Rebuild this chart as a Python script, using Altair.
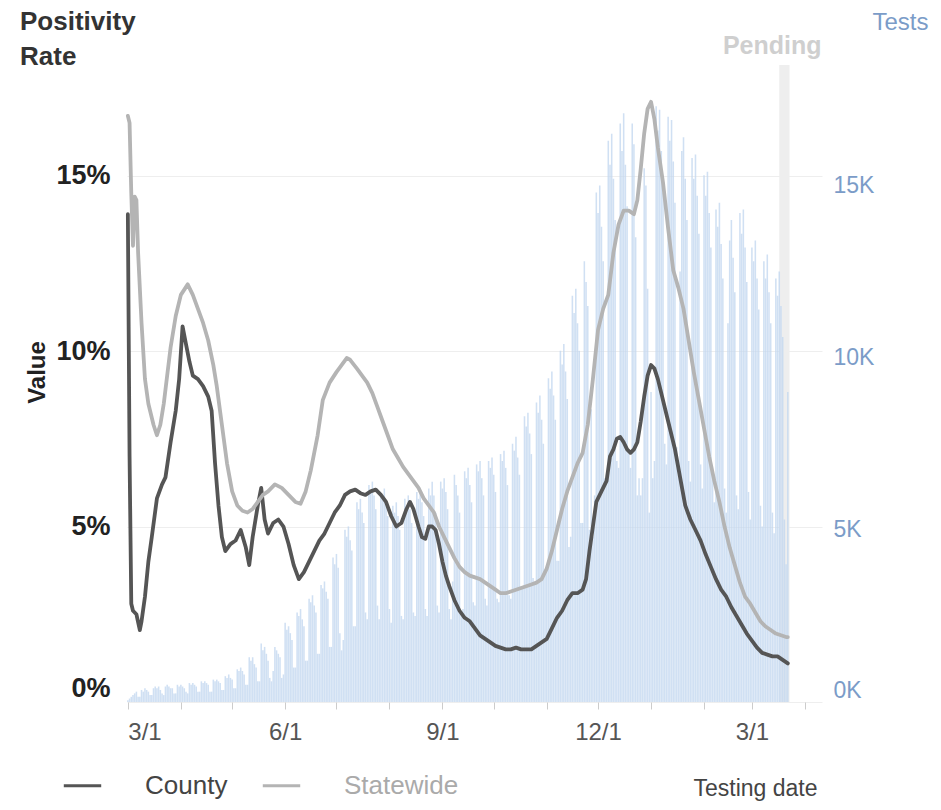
import altair as alt
import pandas as pd

# ---------------- data ----------------
START = "2020-03-01"

# daily tests (thousands), one row per week starting Sunday 2020-03-01
test_weeks = [
    [0.05, 0.1, 0.15, 0.2, 0.25, 0.3, 0.15],
    [0.15, 0.35, 0.3, 0.4, 0.35, 0.3, 0.2],
    [0.2, 0.4, 0.45, 0.4, 0.45, 0.35, 0.25],
    [0.2, 0.45, 0.5, 0.45, 0.4, 0.4, 0.25],
    [0.25, 0.5, 0.45, 0.5, 0.45, 0.4, 0.3],
    [0.25, 0.55, 0.5, 0.55, 0.5, 0.45, 0.3],
    [0.3, 0.6, 0.55, 0.6, 0.55, 0.5, 0.3],
    [0.3, 0.65, 0.6, 0.65, 0.6, 0.55, 0.35],
    [0.35, 0.75, 0.7, 0.8, 0.7, 0.65, 0.4],
    [0.4, 0.95, 0.9, 1.0, 0.9, 0.8, 0.5],
    [0.5, 1.3, 1.2, 1.3, 1.1, 1.0, 0.6],
    [0.6, 1.7, 1.5, 1.6, 1.4, 1.2, 0.7],
    [0.6, 0.9, 1.6, 1.5, 1.4, 1.3, 0.7],
    [0.8, 2.3, 2.1, 2.2, 2.0, 1.8, 1.0],
    [1.0, 2.6, 2.5, 2.7, 2.4, 2.2, 1.2],
    [1.2, 3.0, 2.9, 3.1, 2.8, 2.6, 1.4],
    [1.4, 3.4, 3.3, 3.5, 3.2, 3.0, 1.6],
    [1.6, 4.2, 4.0, 4.3, 3.9, 2.0, 1.5],
    [1.8, 5.0, 4.8, 5.1, 4.7, 4.4, 2.2],
    [2.2, 5.8, 5.6, 5.9, 5.5, 5.2, 2.6],
    [2.4, 6.3, 6.1, 6.4, 6.0, 5.6, 2.8],
    [2.4, 6.0, 5.9, 6.2, 5.8, 5.4, 2.7],
    [2.3, 5.7, 5.5, 5.8, 5.4, 5.0, 2.5],
    [2.4, 5.9, 5.7, 6.0, 5.6, 5.2, 2.6],
    [2.5, 6.1, 5.9, 6.2, 5.8, 5.4, 2.7],
    [2.5, 6.2, 6.0, 6.4, 6.0, 5.5, 2.8],
    [2.6, 6.4, 6.2, 6.5, 6.1, 5.6, 2.7],
    [2.4, 3.5, 6.6, 6.3, 6.0, 5.5, 2.6],
    [2.7, 6.7, 6.5, 6.8, 6.3, 5.8, 2.9],
    [2.8, 6.9, 6.7, 7.0, 6.5, 6.0, 3.0],
    [2.8, 7.0, 6.8, 7.1, 6.6, 6.1, 3.0],
    [2.9, 7.2, 7.0, 7.3, 6.8, 6.3, 3.1],
    [3.0, 7.5, 7.3, 7.7, 7.1, 6.6, 3.3],
    [3.3, 8.3, 8.0, 8.4, 7.8, 7.2, 3.6],
    [3.5, 8.7, 8.4, 8.9, 8.2, 7.5, 3.8],
    [3.8, 9.4, 9.1, 9.6, 8.9, 8.2, 4.1],
    [4.1, 10.2, 9.8, 10.4, 9.6, 8.8, 4.5],
    [4.8, 11.8, 11.3, 12.0, 11.0, 10.2, 5.2],
    [5.2, 12.8, 12.2, 11.5, 5.0, 8.5, 4.8],
    [6.0, 14.8, 14.2, 15.0, 13.8, 12.8, 6.5],
    [6.6, 16.3, 15.6, 16.5, 15.2, 14.0, 7.0],
    [6.8, 16.8, 16.0, 17.1, 15.6, 14.4, 7.2],
    [6.8, 16.8, 16.2, 13.5, 6.0, 6.5, 6.0],
    [6.5, 15.5, 15.0, 12.0, 5.5, 9.0, 6.5],
    [7.0, 17.3, 16.6, 17.2, 16.0, 14.8, 7.5],
    [6.9, 17.0, 16.3, 16.9, 15.7, 14.5, 7.4],
    [6.6, 12.5, 16.0, 16.4, 15.2, 14.0, 7.0],
    [6.4, 15.8, 15.2, 15.9, 14.7, 13.6, 6.9],
    [6.2, 15.3, 14.7, 15.4, 14.2, 13.2, 6.6],
    [5.8, 14.3, 13.8, 14.5, 13.3, 12.3, 6.2],
    [5.5, 11.0, 13.4, 14.0, 12.9, 11.9, 6.0],
    [5.6, 14.2, 13.6, 14.3, 13.2, 12.2, 6.1],
    [5.3, 13.2, 12.8, 13.4, 12.3, 11.4, 5.7],
    [5.1, 12.8, 12.3, 13.0, 11.9, 11.0, 5.5],
    [4.9, 12.3, 11.8, 12.5, 11.5, 10.6, 5.3],
    [4.0, 9.0],
]

# positivity rate (%), day offsets from 2020-03-01
county_day = [0, 1, 2, 3, 5, 7, 8, 10, 12, 14, 17, 20, 22, 25, 28, 30, 32, 34, 36, 38,
              41, 44, 47, 49, 51, 53, 55, 57, 60, 63, 66, 69, 71, 73, 76, 78, 80, 82, 85, 88,
              91, 94, 97, 100, 103, 106, 109, 112, 115, 118, 121, 124, 127, 130, 133, 136, 139, 142, 145, 148,
              151, 154, 157, 160, 163, 165, 167, 170, 172, 174, 176, 178, 180, 182, 184, 186, 188, 191, 194, 197,
              200, 203, 206, 209, 212, 215, 218, 221, 224, 227, 230, 233, 236, 239, 242, 245, 248, 251, 254, 257,
              260, 263, 266, 268, 270, 272, 274, 276, 278, 280, 282, 284, 286, 288, 290, 292, 294, 296, 298, 300,
              302, 304, 306, 308, 310, 312, 314, 317, 320, 323, 326, 329, 332, 335, 338, 341, 344, 347, 350, 353,
              356, 359, 362, 365, 368, 371, 374, 377, 380, 383, 386]
county_val = [13.9, 7.0, 2.8, 2.6, 2.5, 2.05, 2.3, 3.0, 4.0, 4.7, 5.8, 6.2, 6.4, 7.4, 8.3, 9.2, 10.7, 10.2, 9.7, 9.3,
              9.2, 9.0, 8.7, 8.3, 6.8, 5.6, 4.7, 4.3, 4.5, 4.6, 4.9, 4.4, 3.9, 4.7, 5.6, 6.1, 5.2, 4.8, 5.1, 5.2,
              5.0, 4.5, 3.9, 3.5, 3.7, 4.0, 4.3, 4.6, 4.8, 5.1, 5.4, 5.6, 5.9, 6.0, 6.05, 5.95, 5.9, 6.0, 6.05, 5.9,
              5.7, 5.3, 5.0, 5.1, 5.5, 5.7, 5.5, 5.0, 4.7, 4.65, 5.0, 5.0, 4.9, 4.5, 4.0, 3.6, 3.3, 2.9, 2.6, 2.4,
              2.3, 2.1, 1.9, 1.8, 1.7, 1.6, 1.55, 1.5, 1.5, 1.55, 1.5, 1.5, 1.5, 1.6, 1.7, 1.8, 2.1, 2.4, 2.6, 2.9,
              3.1, 3.1, 3.2, 3.5, 4.3, 5.0, 5.7, 5.9, 6.1, 6.3, 7.0, 7.2, 7.5, 7.55, 7.4, 7.2, 7.1, 7.2, 7.4, 8.0,
              8.7, 9.3, 9.6, 9.5, 9.2, 8.8, 8.4, 7.8, 7.2, 6.4, 5.6, 5.2, 4.9, 4.6, 4.2, 3.85, 3.5, 3.2, 3.0, 2.7,
              2.45, 2.2, 1.95, 1.75, 1.55, 1.4, 1.35, 1.3, 1.3, 1.2, 1.1]

state_day = [0, 1, 2, 3, 4, 5, 6, 8, 10, 12, 15, 17, 19, 21, 23, 25, 28, 31, 35, 38,
             41, 44, 47, 50, 52, 55, 58, 61, 64, 67, 70, 73, 76, 79, 82, 86, 90, 94, 98, 101,
             104, 107, 111, 114, 118, 122, 125, 128, 130, 134, 137, 140, 143, 146, 149, 152, 155, 158, 161, 164,
             167, 170, 173, 176, 179, 182, 185, 188, 191, 194, 197, 200, 203, 206, 209, 212, 215, 218, 221, 224,
             227, 230, 233, 236, 239, 242, 245, 248, 251, 254, 257, 260, 263, 266, 269, 272, 275, 278, 281, 284,
             287, 290, 293, 296, 298, 300, 302, 304, 306, 308, 310, 313, 316, 319, 322, 325, 328, 331, 334, 337,
             340, 343, 346, 349, 352, 355, 358, 361, 364, 367, 370, 373, 376, 379, 382, 385, 386]
state_val = [16.7, 16.5, 14.5, 13.0, 14.4, 14.3, 12.8, 10.8, 9.2, 8.5, 7.9, 7.6, 7.9, 8.5, 9.3, 10.1, 11.0, 11.6, 11.9, 11.6,
             11.2, 10.8, 10.3, 9.6, 9.0, 7.9, 6.8, 6.0, 5.6, 5.45, 5.4, 5.5, 5.7, 5.9, 6.0, 6.2, 6.1, 5.9, 5.7, 5.65,
             6.0, 6.6, 7.6, 8.6, 9.1, 9.4, 9.6, 9.8, 9.75, 9.5, 9.3, 9.1, 8.8, 8.4, 8.0, 7.6, 7.2, 6.95, 6.7, 6.5,
             6.3, 6.1, 5.8, 5.6, 5.4, 5.0, 4.7, 4.4, 4.1, 3.85, 3.7, 3.6, 3.55, 3.5, 3.4, 3.3, 3.2, 3.1, 3.1, 3.15,
             3.2, 3.25, 3.3, 3.35, 3.4, 3.5, 3.8, 4.3, 4.9, 5.5, 6.0, 6.4, 6.8, 7.1, 7.9, 9.2, 10.6, 11.2, 11.6, 12.8,
             13.6, 14.0, 14.0, 13.9, 14.3, 15.2, 16.2, 16.9, 17.1, 16.6, 15.8, 14.8, 13.5, 12.3, 11.8, 11.2, 10.3, 9.4, 8.6, 7.8,
             7.0, 6.3, 5.7, 5.0, 4.4, 3.9, 3.4, 3.0, 2.8, 2.55, 2.3, 2.15, 2.05, 1.95, 1.9, 1.85, 1.85]

series_names = ["County", "Statewide"]
series_colors = ["#555555", "#b4b4b4"]

pending_start = "2021-03-17"
pending_end = "2021-03-23"
pending_label = "Pending"

left_title_lines = ["Positivity", "Rate"]

x_domain = ["2020-02-29T12:00:00", "2021-04-11T00:00:00"]
x_ticks = ["2020-03-01", "2020-04-01", "2020-05-01", "2020-06-01", "2020-07-01", "2020-08-01",
           "2020-09-01", "2020-10-01", "2020-11-01", "2020-12-01", "2021-01-01", "2021-02-01",
           "2021-03-01", "2021-04-01"]
left_ticks = [0, 5, 10, 15]
left_max = 18.15
right_ticks = [0, 5000, 10000, 15000]
right_max = 18500

# ---------------- tables ----------------
start = pd.Timestamp(START)


def day_str(offset):
    return (start + pd.Timedelta(days=offset)).strftime("%Y-%m-%d")


def ms(s):
    return int(pd.Timestamp(s, tz="UTC").value // 10**6)


tests = [v for wk in test_weeks for v in wk]
bars_df = pd.DataFrame({"date": [day_str(i) for i in range(len(tests))],
                        "tests": [v * 1000 for v in tests]})

lines_df = pd.concat([
    pd.DataFrame({"date": [day_str(d) for d in county_day], "value": county_val, "series": "County"}),
    pd.DataFrame({"date": [day_str(d) for d in state_day], "value": state_val, "series": "Statewide"}),
], ignore_index=True)

pend_df = pd.DataFrame({"start": [pending_start], "end": [pending_end], "label": [pending_label]})

FONT = "Liberation Sans"
xscale = alt.Scale(type="utc", domain=[ms(x_domain[0]), ms(x_domain[1])], padding=0)

x_axis = alt.Axis(
    values=[ms(t) for t in x_ticks],
    labelExpr="indexof([2,5,8,11], utcmonth(datum.value)) >= 0 ? utcFormat(datum.value, '%-m/%-d') : ''",
    tickSize=7, tickColor="#cccccc", tickWidth=1, domain=False, grid=False,
    labelFontSize=24, labelColor="#555555", labelPadding=11, labelFlush=3,
    labelOverlap=False, labelBound=False,
    title="Testing date", titleFontSize=23, titleFontWeight="normal", titleColor="#444444",
    titleX=628, titleY=86, titleAlign="center", titleBaseline="middle", titleAngle=0,
)

pending_rect = alt.Chart(pend_df).mark_rect(color="#eeeeee").encode(
    x=alt.X("start:T", scale=xscale, axis=x_axis, title="Testing date"),
    x2="end:T",
)

pending_text = alt.Chart(pend_df).mark_text(
    fontSize=25, fontWeight="bold", color="#cfcfcf", baseline="alphabetic", align="right",
    font=FONT, dx=32
).encode(
    x=alt.X("end:T", scale=xscale, axis=x_axis, title="Testing date"),
    y=alt.value(-11),
    text="label:N",
)


def title_line(txt, ypx):
    return alt.Chart(pd.DataFrame({"t": [txt]})).mark_text(
        fontSize=26, fontWeight="bold", color="#333333", baseline="alphabetic", align="left",
        font=FONT
    ).encode(x=alt.value(-107), y=alt.value(ypx), text="t:N")


title_1 = title_line(left_title_lines[0], -35)
title_2 = title_line(left_title_lines[1], 0)

bars = alt.Chart(bars_df).mark_bar(width=1.55, color="#c3d7ef", opacity=0.78).encode(
    x=alt.X("date:T", scale=xscale, axis=x_axis, title="Testing date"),
    y=alt.Y("tests:Q", scale=alt.Scale(domain=[0, right_max], nice=False),
            axis=alt.Axis(orient="right", values=right_ticks,
                          labelExpr="(datum.value / 1000) + 'K'",
                          labelFontSize=23, labelColor="#7b9cc8", labelPadding=11,
                          ticks=False, domain=False, grid=False, labelFlush=True,
                          title="Tests", titleFontSize=24, titleFontWeight="normal",
                          titleColor="#7b9cc8", titleX=50, titleY=-43, titleAngle=0,
                          titleAlign="left", titleBaseline="middle")),
)

lines = alt.Chart(lines_df).mark_line(strokeWidth=3.8, strokeJoin="round", strokeCap="round").encode(
    x=alt.X("date:T", scale=xscale, axis=x_axis, title="Testing date"),
    y=alt.Y("value:Q", scale=alt.Scale(domain=[0, left_max], nice=False),
            axis=alt.Axis(orient="left", values=left_ticks, labelExpr="datum.value + '%'",
                          labelFontSize=27, labelFontWeight="bold", labelColor="#222222",
                          labelPadding=17, ticks=False, domain=False, grid=True,
                          gridColor="#eeeeee", gridWidth=1, labelFlush=True,
                          title="Value", titleFontSize=24, titleFontWeight="bold",
                          titleColor="#222222", titleX=-90, titleY=307, titleAngle=270,
                          titleAlign="center", titleBaseline="middle")),
    color=alt.Color("series:N",
                    scale=alt.Scale(domain=series_names, range=series_colors),
                    legend=alt.Legend(orient="none", legendX=-65, legendY=700,
                                      direction="horizontal", title=None,
                                      symbolType="stroke", symbolStrokeWidth=3,
                                      symbolSize=1400, labelFontSize=26,
                                      labelColor={"expr": "datum.label == 'County' ? '#444444' : '#aaaaaa'"},
                                      labelOffset=42, columnPadding=28, labelFont=FONT)),
    order=alt.Order("date:T"),
)

chart = alt.layer(pending_rect, bars, lines, pending_text, title_1, title_2).resolve_scale(
    y="independent"
).properties(
    width=695, height=637,
    padding={"left": 119, "top": 57, "right": 111, "bottom": 100},
    autosize=alt.AutoSizeParams(type="none"),
).configure(font=FONT).configure_view(stroke=None)

chart.save("out.html", embed_options={"renderer": "svg", "actions": False})
